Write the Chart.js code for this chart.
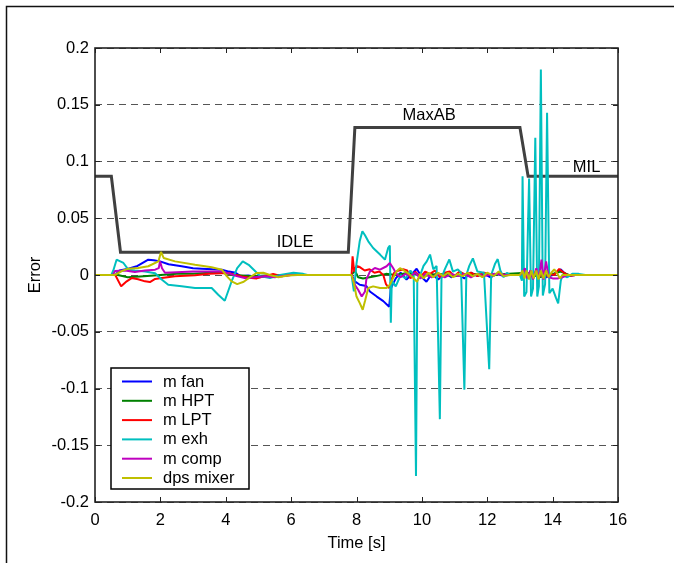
<!DOCTYPE html>
<html>
<head>
<meta charset="utf-8">
<script src="https://cdn.jsdelivr.net/npm/chart.js@4.4.1/dist/chart.umd.min.js"></script>
<style>
  html, body { margin: 0; padding: 0; background: #fff; }
  canvas { display: block; }
</style>
</head>
<body>
<canvas id="grafico" width="674" height="563"></canvas>
<script>
// [tempo (s), erro] de cada sinal
const mFan = [[0,0],[0.62,0],[0.75,0.004],[1.02,0.0056],[1.3,0.008],[1.63,0.0135],[1.8,0.013],[1.99,0.012],[2.25,0.0095],[2.65,0.0077],[3.0,0.006],[3.26,0.0056],[3.6,0.005],[3.88,0.0047],[4.1,0.003],[4.3,0.002],[4.45,-0.001],[4.69,-0.0005],[5.0,-0.002],[5.4,-0.001],[5.8,0],[6.2,0],[7.85,0],[7.95,-0.0056],[8.1,-0.0086],[8.3,-0.0097],[8.41,-0.0145],[8.62,-0.019],[8.82,-0.023],[9.0,-0.028],[9.05,-0.012],[9.2,-0.003],[9.35,0.002],[9.53,-0.004],[9.7,0.001],[9.84,0.0055],[10.0,-0.002],[10.14,-0.006],[10.3,0.001],[10.5,-0.004],[10.7,0.002],[10.9,-0.002],[11.1,0.001],[11.3,-0.003],[11.5,0.002],[11.7,-0.001],[11.9,0.001],[12.1,-0.002],[12.3,0.001],[12.5,-0.001],[12.7,0.0005],[13.0,0],[13.2,0.002],[13.4,-0.001],[13.6,0.001],[13.8,-0.002],[14.0,0],[14.15,0.003],[14.25,0.005],[14.35,0.002],[14.5,-0.001],[14.7,0],[16,0]];
const mHPT = [[0,0],[0.7,0],[1.0,-0.002],[1.5,-0.001],[2.0,0.0],[2.5,0.001],[3.0,0.001],[3.5,0.002],[3.9,0.002],[4.3,0.0],[4.8,-0.001],[5.5,0],[7.85,0],[7.95,0.004],[8.05,-0.002],[8.2,-0.003],[8.4,-0.002],[8.6,-0.001],[8.9,0.001],[9.2,0.0],[9.6,0.002],[10,-0.001],[10.5,0.001],[11,-0.001],[11.5,0.001],[12,0],[13.2,0.002],[13.6,-0.002],[14.0,0.001],[14.25,0.003],[14.5,0],[16,0]];
const mLPT = [[0,0],[0.62,0],[0.8,-0.010],[0.97,-0.0056],[1.12,-0.0027],[1.32,-0.0037],[1.53,-0.0056],[1.68,-0.0062],[1.84,-0.0035],[2.04,-0.0027],[2.45,-0.0012],[3.06,-0.0003],[3.5,0.001],[3.88,0.0015],[4.1,0.0015],[4.49,-0.0012],[4.79,-0.0027],[4.95,-0.003],[5.2,-0.001],[5.45,0.001],[5.7,-0.001],[6.0,0],[7.85,0],[7.88,0.0165],[7.93,0.003],[8.0,0.008],[8.1,0.007],[8.25,0.004],[8.4,0.005],[8.55,0.002],[8.7,0.003],[8.82,0.0],[8.9,-0.008],[9.0,-0.0115],[9.06,-0.005],[9.15,0.002],[9.3,0.004],[9.45,0.005],[9.55,0.004],[9.65,-0.003],[9.8,0.003],[9.95,-0.002],[10.1,0.003],[10.25,0.001],[10.4,0.004],[10.55,-0.002],[10.7,0.002],[10.85,0.003],[11.0,-0.001],[11.15,0.003],[11.35,0.0],[11.5,0.002],[11.7,-0.001],[11.9,0.002],[12.1,0.0],[12.3,0.001],[12.6,0],[13.0,0],[13.15,0.003],[13.3,-0.002],[13.5,0.003],[13.7,-0.002],[13.9,0.001],[14.05,0.0],[14.2,0.0053],[14.35,0.002],[14.5,-0.001],[14.7,0],[16,0]];
const mExh = [[0,0],[0.5,0],[0.56,0.004],[0.66,0.0135],[0.87,0.0106],[1.02,0.0047],[1.22,0.004],[1.53,0.003],[1.84,0.0015],[2.04,-0.004],[2.24,-0.0086],[2.65,-0.010],[3.06,-0.0115],[3.57,-0.0115],[3.77,-0.0174],[3.97,-0.0227],[4.2,-0.004],[4.35,0.006],[4.52,0.012],[4.7,0.009],[4.88,0.004],[5.05,-0.001],[5.35,-0.0027],[5.66,0],[6.07,0.002],[6.37,0.001],[6.5,0],[7.85,0],[7.92,-0.0145],[8.0,0.01],[8.1,0.03],[8.18,0.0386],[8.26,0.035],[8.36,0.0297],[8.51,0.0238],[8.72,0.018],[8.87,0.0135],[8.97,0.024],[9.02,0.026],[9.05,-0.042],[9.08,-0.005],[9.2,-0.01],[9.35,0.0],[9.5,-0.003],[9.65,0.004],[9.75,0.0],[9.82,-0.177],[9.86,-0.005],[9.95,0.0],[10.05,0.008],[10.15,0.012],[10.25,0.018],[10.35,0.005],[10.45,0.008],[10.55,-0.127],[10.6,-0.003],[10.7,0.005],[10.84,0.0137],[10.95,0.003],[11.1,0.005],[11.2,0.002],[11.3,-0.101],[11.36,0.0],[11.45,0.008],[11.56,0.0147],[11.7,0.003],[11.9,0.002],[12.06,-0.083],[12.12,0.0],[12.24,0.01],[12.32,0.014],[12.4,0.004],[12.5,-0.002],[12.6,0.002],[12.7,0.0],[13.0,0.0],[13.06,-0.005],[13.08,0.087],[13.13,-0.019],[13.2,-0.015],[13.28,0.085],[13.34,-0.019],[13.4,-0.012],[13.47,0.121],[13.53,-0.019],[13.58,-0.01],[13.64,0.181],[13.7,-0.018],[13.77,-0.008],[13.83,0.143],[13.9,-0.016],[14.0,-0.012],[14.1,-0.02],[14.17,-0.025],[14.25,-0.005],[14.3,0.0],[14.45,-0.002],[14.6,0.001],[14.8,0.001],[15.0,0],[16,0]];
const mComp = [[0,0],[0.55,0],[0.61,0.0035],[0.92,0.004],[1.22,0.0027],[1.53,0.004],[1.84,0.0047],[1.95,0.006],[1.99,0.012],[2.05,0.006],[2.14,0.002],[2.5,0.0025],[3.0,0.003],[3.5,0.003],[3.9,0.003],[4.15,0.001],[4.33,-0.001],[4.64,-0.003],[4.85,-0.002],[5.2,-0.001],[5.5,-0.002],[5.98,0],[7.85,0],[7.95,-0.0087],[8.05,-0.013],[8.16,-0.019],[8.26,-0.0145],[8.3,-0.004],[8.41,0.003],[8.56,0.0062],[8.72,0.0047],[8.92,0.0077],[9.02,0.0106],[9.12,0.0062],[9.22,0.001],[9.35,-0.002],[9.5,0.001],[9.65,-0.001],[9.8,0.002],[9.95,-0.003],[10.1,0.001],[10.3,-0.002],[10.5,0.001],[10.7,-0.002],[10.9,0.001],[11.1,-0.001],[11.3,0.001],[11.5,-0.002],[11.7,0.001],[11.9,-0.001],[12.2,0.001],[12.6,0],[13.0,0],[13.1,0.003],[13.15,0.006],[13.22,-0.003],[13.32,0.004],[13.4,-0.004],[13.5,0.006],[13.58,-0.003],[13.66,0.0135],[13.72,-0.004],[13.8,0.012],[13.88,-0.002],[14.0,-0.003],[14.15,-0.003],[14.3,-0.002],[14.45,0],[16,0]];
const dpsMixer = [[0,0],[0.6,0],[0.82,0.0035],[1.02,0.0056],[1.32,0.0062],[1.63,0.0077],[1.94,0.012],[2.02,0.0203],[2.1,0.015],[2.45,0.012],[3.06,0.009],[3.57,0.0068],[3.88,0.0047],[4.03,-0.001],[4.18,-0.0056],[4.35,-0.008],[4.55,-0.006],[4.74,-0.002],[4.95,0.0018],[5.15,0.002],[5.35,0.0],[5.61,-0.002],[5.9,-0.0005],[6.2,0],[7.85,0],[7.92,-0.007],[8.0,-0.019],[8.1,-0.0248],[8.19,-0.0306],[8.26,-0.023],[8.36,-0.0115],[8.51,-0.01],[8.72,-0.0115],[8.92,-0.0115],[9.02,-0.0085],[9.12,-0.0027],[9.22,0.003],[9.33,0.006],[9.45,0.004],[9.6,0.001],[9.74,-0.0027],[9.85,-0.006],[9.95,0.001],[10.05,-0.003],[10.2,0.002],[10.35,-0.002],[10.5,0.002],[10.65,-0.001],[10.8,0.002],[10.95,-0.002],[11.1,0.001],[11.25,-0.001],[11.4,0.002],[11.55,-0.001],[11.7,0.001],[11.85,-0.002],[12.0,0.002],[12.2,-0.001],[12.35,0.003],[12.5,-0.001],[12.7,0.0],[13.0,0],[13.08,0.004],[13.14,-0.003],[13.2,0.004],[13.28,-0.004],[13.35,0.004],[13.42,-0.003],[13.5,0.004],[13.57,-0.004],[13.64,0.004],[13.72,-0.003],[13.8,0.004],[13.88,-0.002],[13.96,0.002],[14.05,0.005],[14.15,0.001],[14.22,-0.003],[14.3,0.0],[16,0]];

// regime do motor (linha cinza) e os nomes dos patamares
const regime = [[0,0.087],[0.5,0.087],[0.78,0.02],[7.75,0.02],[7.95,0.13],[13.0,0.13],[13.25,0.087],[16,0.087]];
const patamares = [
  { texto: "IDLE", t: 6.12, v: 0.0285 },
  { texto: "MaxAB", t: 10.22, v: 0.1406 },
  { texto: "MIL", t: 15.04, v: 0.0948 }
];

const series = [
  { label: "m fan", dados: mFan, cor: "#0000ff" },
  { label: "m HPT", dados: mHPT, cor: "#008000" },
  { label: "m LPT", dados: mLPT, cor: "#ff0000" },
  { label: "m exh", dados: mExh, cor: "#00bfbf" },
  { label: "m comp", dados: mComp, cor: "#bf00bf" },
  { label: "dps mixer", dados: dpsMixer, cor: "#bfbf00" }
];

const fonte = "'Liberation Sans', Arial, sans-serif";
const tamanho = 16.5;
Chart.defaults.font.family = fonte;
Chart.defaults.font.size = tamanho;
Chart.defaults.color = "#000";

const pontos = arr => arr.map(p => ({ x: p[0], y: p[1] }));

// moldura, marcas internas, textos dos patamares e legenda
const moldura = {
  id: "moldura",
  afterDatasetsDraw(chart) {
    const { ctx, chartArea: a, scales: { x, y } } = chart;
    const linha = (x1, y1, x2, y2) => { ctx.beginPath(); ctx.moveTo(x1, y1); ctx.lineTo(x2, y2); ctx.stroke(); };
    ctx.save();
    ctx.strokeStyle = "#222";
    ctx.lineWidth = 1;
    x.ticks.forEach(t => {
      const px = Math.round(x.getPixelForValue(t.value)) + 0.5;
      linha(px, a.bottom, px, a.bottom - 5);
      linha(px, a.top, px, a.top + 5);
    });
    y.ticks.forEach(t => {
      const py = Math.round(y.getPixelForValue(t.value)) + 0.5;
      linha(a.left, py, a.left + 5, py);
      linha(a.right, py, a.right - 5, py);
    });
    ctx.lineWidth = 1.6;
    ctx.strokeRect(a.left, a.top, a.right - a.left, a.bottom - a.top);

    ctx.fillStyle = "#000";
    ctx.font = tamanho + "px " + fonte;
    ctx.textAlign = "center";
    ctx.textBaseline = "middle";
    patamares.forEach(p => ctx.fillText(p.texto, x.getPixelForValue(p.t), y.getPixelForValue(p.v)));

    // legenda no canto inferior esquerdo
    const lx = a.left + 16, ly = a.bottom - 134, lw = 138, lh = 121;
    ctx.fillStyle = "#fff";
    ctx.fillRect(lx, ly, lw, lh);
    ctx.strokeStyle = "#000";
    ctx.lineWidth = 1.5;
    ctx.strokeRect(lx, ly, lw, lh);
    ctx.textAlign = "left";
    series.forEach((s, i) => {
      const yy = ly + 13.5 + i * 19.3;
      ctx.strokeStyle = s.cor;
      ctx.lineWidth = 2;
      linha(lx + 11, yy, lx + 41, yy);
      ctx.fillStyle = "#000";
      ctx.fillText(s.label, lx + 52, yy + 0.5);
    });
    ctx.restore();
  },
  afterDraw(chart) {
    const ctx = chart.ctx;
    ctx.save();
    ctx.strokeStyle = "#111";
    ctx.lineWidth = 1.5;
    ctx.beginPath();
    ctx.moveTo(6.5, 563);
    ctx.lineTo(6.5, 6.5);
    ctx.lineTo(674, 6.5);
    ctx.stroke();
    ctx.restore();
  }
};

const datasets = series.map((s, i) => ({
  label: s.label,
  data: pontos(s.dados),
  borderColor: s.cor,
  borderWidth: 2,
  pointRadius: 0,
  tension: 0,
  borderJoinStyle: "bevel",
  order: series.length - i
}));
datasets.push({
  label: "regime",
  data: pontos(regime),
  borderColor: "#404040",
  borderWidth: 3,
  pointRadius: 0,
  tension: 0,
  order: 10
});

new Chart(document.getElementById("grafico"), {
  type: "line",
  data: { datasets },
  options: {
    responsive: false,
    animation: false,
    devicePixelRatio: 1,
    layout: { padding: { top: 48, right: 56, left: 0, bottom: 0 } },
    plugins: { legend: { display: false }, tooltip: { enabled: false } },
    scales: {
      x: {
        type: "linear",
        min: 0,
        max: 16,
        ticks: { stepSize: 2, padding: 1, maxRotation: 0 },
        grid: { display: false },
        border: { display: false },
        title: { display: true, text: "Time [s]", padding: { top: 0, bottom: 10 } },
        afterFit: s => { s.height = 61; }
      },
      y: {
        min: -0.2,
        max: 0.2,
        ticks: { stepSize: 0.05, padding: 6, callback: v => String(Math.round(v * 100) / 100) },
        grid: { color: "#555", lineWidth: 1, drawTicks: false },
        border: { display: false, dash: [7, 5] },
        title: { display: true, text: "Error", padding: { top: 26, bottom: 0 } },
        afterFit: s => { s.width = 95; }
      }
    }
  },
  plugins: [moldura]
});
</script>
</body>
</html>
